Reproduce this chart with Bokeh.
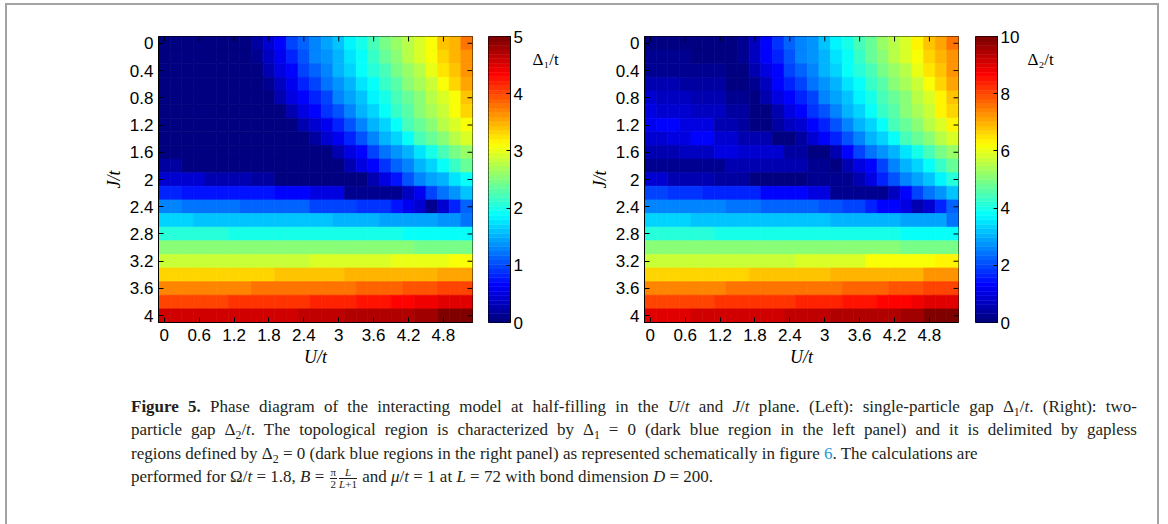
from bokeh.plotting import figure
from bokeh.models import (Range1d, FixedTicker, CustomJSTickFormatter,
                          LinearColorMapper, Div, ColumnDataSource)
from bokeh.core.properties import value
from bokeh.transform import transform
from bokeh.layouts import row, column
from bokeh.embed import file_html
from bokeh.resources import INLINE

# ---------------- data ----------------
U_vals = [0.0, 0.2, 0.4, 0.6, 0.8, 1.0, 1.2, 1.4, 1.6, 1.8, 2.0, 2.2, 2.4, 2.6,
          2.8, 3.0, 3.2, 3.4, 3.6, 3.8, 4.0, 4.2, 4.4, 4.6, 4.8, 5.0, 5.2]
J_vals = [0.0, 0.2, 0.4, 0.6, 0.8, 1.0, 1.2, 1.4, 1.6, 1.8, 2.0, 2.2, 2.4, 2.6,
          2.8, 3.0, 3.2, 3.4, 3.6, 3.8, 4.0]
x_ticks = [0, 0.6, 1.2, 1.8, 2.4, 3, 3.6, 4.2, 4.8]
y_ticks = [0, 0.4, 0.8, 1.2, 1.6, 2, 2.4, 2.8, 3.2, 3.6, 4]
cb1_ticks = [0, 1, 2, 3, 4, 5]
cb2_ticks = [0, 2, 4, 6, 8, 10]

# single-particle gap Delta_1/t  (rows: J/t, columns: U/t)
gap1 = [
    [0, 0, 0, 0, 0, 0, 0, 0, 0.19, 0.44, 0.69, 0.94, 1.12, 1.31, 1.44, 1.62, 1.81, 2.0, 2.25, 2.44, 2.62, 2.81, 2.94, 3.12, 3.38, 3.5, 3.75],
    [0, 0, 0, 0, 0, 0, 0, 0, 0.12, 0.38, 0.62, 0.81, 1.06, 1.25, 1.38, 1.56, 1.75, 1.94, 2.12, 2.38, 2.56, 2.75, 2.94, 3.06, 3.31, 3.5, 3.62],
    [0, 0, 0, 0, 0, 0, 0, 0, 0, 0.25, 0.5, 0.69, 0.94, 1.12, 1.31, 1.5, 1.69, 1.88, 2.06, 2.25, 2.44, 2.62, 2.81, 3.0, 3.25, 3.38, 3.62],
    [0, 0, 0, 0, 0, 0, 0, 0, 0, 0.12, 0.38, 0.62, 0.81, 1.0, 1.19, 1.38, 1.56, 1.75, 1.94, 2.12, 2.31, 2.5, 2.69, 2.88, 3.06, 3.31, 3.56],
    [0, 0, 0, 0, 0, 0, 0, 0, 0, 0, 0.25, 0.5, 0.69, 0.81, 1.0, 1.25, 1.44, 1.62, 1.81, 2.0, 2.19, 2.38, 2.56, 2.75, 2.94, 3.12, 3.38],
    [0, 0, 0, 0, 0, 0, 0, 0, 0, 0, 0, 0.25, 0.5, 0.69, 0.88, 1.06, 1.31, 1.5, 1.69, 1.94, 2.12, 2.31, 2.5, 2.69, 2.88, 3.12, 3.31],
    [0, 0, 0, 0, 0, 0, 0, 0, 0, 0, 0, 0, 0.25, 0.44, 0.62, 0.81, 1.06, 1.31, 1.5, 1.69, 1.94, 2.19, 2.38, 2.56, 2.75, 2.94, 3.12],
    [0, 0, 0, 0, 0, 0, 0, 0, 0, 0, 0, 0, 0, 0.19, 0.44, 0.62, 0.81, 1.06, 1.31, 1.5, 1.69, 1.94, 2.19, 2.38, 2.56, 2.75, 2.94],
    [0, 0, 0, 0, 0, 0, 0, 0, 0, 0, 0, 0, 0, 0, 0, 0.25, 0.5, 0.69, 0.94, 1.19, 1.38, 1.56, 1.75, 2.0, 2.25, 2.44, 2.62],
    [0.19, 0.19, 0, 0, 0, 0, 0, 0, 0, 0, 0, 0, 0, 0, 0, 0, 0.25, 0.5, 0.69, 0.88, 1.12, 1.31, 1.5, 1.69, 1.88, 2.12, 2.38],
    [0.44, 0.44, 0.44, 0.44, 0.31, 0.31, 0.31, 0.31, 0.19, 0.19, 0, 0, 0, 0, 0, 0, 0, 0, 0.25, 0.5, 0.75, 1.06, 1.25, 1.44, 1.56, 1.75, 1.88],
    [0.81, 0.81, 0.78, 0.78, 0.78, 0.78, 0.78, 0.78, 0.78, 0.78, 0.69, 0.69, 0.69, 0.5, 0.5, 0.5, 0.1, 0.1, 0.1, 0.1, 0.1, 0.38, 0.62, 0.94, 1.19, 1.38, 1.62],
    [1.25, 1.25, 1.19, 1.19, 1.19, 1.19, 1.19, 1.12, 1.12, 1.12, 1.1, 1.1, 1.1, 1.0, 1.0, 1.0, 1.0, 0.88, 0.88, 0.88, 0.75, 0.56, 0.44, 0.12, 0.44, 0.81, 1.12],
    [1.69, 1.69, 1.69, 1.62, 1.62, 1.62, 1.62, 1.62, 1.62, 1.62, 1.58, 1.58, 1.58, 1.58, 1.58, 1.52, 1.52, 1.52, 1.52, 1.48, 1.48, 1.48, 1.48, 1.48, 1.38, 1.38, 1.19],
    [2.06, 2.06, 2.06, 2.06, 2.06, 2.06, 2.03, 2.03, 2.03, 2.03, 2.03, 2.03, 2.03, 2.03, 2.03, 2.03, 2.03, 2.03, 2.03, 2.03, 2.03, 1.94, 1.94, 1.94, 1.94, 1.94, 1.88],
    [2.5, 2.5, 2.5, 2.5, 2.5, 2.5, 2.5, 2.5, 2.5, 2.5, 2.5, 2.5, 2.5, 2.5, 2.5, 2.5, 2.5, 2.5, 2.5, 2.5, 2.5, 2.5, 2.44, 2.44, 2.44, 2.44, 2.44],
    [2.88, 2.88, 2.88, 2.88, 2.88, 2.88, 2.88, 2.88, 2.88, 2.88, 2.88, 2.88, 2.88, 2.94, 2.94, 2.94, 2.94, 2.94, 2.94, 2.94, 3.0, 3.0, 3.0, 3.0, 3.0, 3.12, 3.12],
    [3.31, 3.31, 3.31, 3.31, 3.31, 3.31, 3.31, 3.31, 3.31, 3.31, 3.38, 3.38, 3.38, 3.38, 3.38, 3.38, 3.44, 3.44, 3.44, 3.44, 3.5, 3.5, 3.5, 3.5, 3.56, 3.56, 3.56],
    [3.69, 3.69, 3.69, 3.69, 3.69, 3.69, 3.69, 3.69, 3.75, 3.75, 3.75, 3.75, 3.75, 3.75, 3.81, 3.81, 3.81, 3.88, 3.88, 3.88, 3.88, 3.94, 3.94, 3.94, 4.0, 4.0, 4.0],
    [4.06, 4.06, 4.06, 4.06, 4.06, 4.06, 4.12, 4.12, 4.12, 4.12, 4.12, 4.12, 4.12, 4.19, 4.19, 4.19, 4.19, 4.25, 4.25, 4.25, 4.31, 4.31, 4.38, 4.38, 4.47, 4.47, 4.47],
    [4.55, 4.55, 4.55, 4.55, 4.59, 4.59, 4.59, 4.59, 4.59, 4.59, 4.59, 4.59, 4.62, 4.62, 4.62, 4.62, 4.69, 4.69, 4.69, 4.75, 4.75, 4.75, 4.81, 4.81, 4.94, 4.94, 4.94],
]

# two-particle gap Delta_2/t
gap2 = [
    [0.12, 0.12, 0.12, 0.12, 0.05, 0.05, 0.05, 0.05, 0.25, 0.75, 1.3, 1.8, 2.2, 2.5, 2.8, 3.2, 3.6, 4.0, 4.4, 4.8, 5.2, 5.6, 5.9, 6.25, 6.75, 7.1, 7.5],
    [0.25, 0.25, 0.25, 0.25, 0.12, 0.12, 0.12, 0.12, 0.25, 0.75, 1.25, 1.6, 2.1, 2.5, 2.75, 3.1, 3.5, 3.9, 4.25, 4.75, 5.1, 5.5, 5.9, 6.1, 6.6, 7.0, 7.25],
    [0.3, 0.3, 0.3, 0.3, 0.3, 0.3, 0.3, 0.1, 0.15, 0.5, 1.0, 1.4, 1.9, 2.25, 2.6, 3.0, 3.4, 3.75, 4.1, 4.5, 4.9, 5.25, 5.6, 6.0, 6.5, 6.75, 7.25],
    [0.5, 0.5, 0.5, 0.4, 0.4, 0.4, 0.4, 0.05, 0.1, 0.25, 0.75, 1.25, 1.6, 2.0, 2.4, 2.75, 3.1, 3.5, 3.9, 4.25, 4.6, 5.0, 5.4, 5.75, 6.1, 6.6, 7.1],
    [0.9, 0.75, 0.75, 0.75, 0.6, 0.6, 0.6, 0.25, 0.25, 0.1, 0.5, 1.0, 1.4, 1.6, 2.0, 2.5, 2.9, 3.25, 3.6, 4.0, 4.4, 4.75, 5.1, 5.5, 5.9, 6.25, 6.75],
    [1.0, 0.9, 0.9, 0.9, 0.75, 0.75, 0.75, 0.4, 0.4, 0.12, 0.05, 0.5, 1.0, 1.4, 1.75, 2.1, 2.6, 3.0, 3.4, 3.9, 4.25, 4.6, 5.0, 5.4, 5.75, 6.25, 6.6],
    [1.1, 1.4, 1.4, 1.0, 1.0, 1.0, 0.6, 0.6, 0.4, 0.05, 0.05, 0.4, 0.75, 0.9, 1.25, 1.6, 2.1, 2.6, 3.0, 3.4, 3.9, 4.4, 4.75, 5.1, 5.5, 5.9, 6.25],
    [0.9, 0.9, 1.0, 1.0, 1.4, 1.4, 0.9, 0.9, 0.5, 0.5, 0.5, 0.12, 0.12, 0.4, 0.9, 1.3, 1.6, 2.1, 2.6, 3.0, 3.4, 3.9, 4.4, 4.75, 5.1, 5.5, 5.9],
    [0.5, 0.5, 0.5, 0.75, 0.75, 0.75, 1.0, 1.0, 0.9, 0.9, 0.9, 0.9, 0.4, 0.4, 0.12, 0.12, 0.6, 1.25, 1.9, 2.4, 2.75, 3.1, 3.5, 4.0, 4.5, 4.9, 5.25],
    [0.25, 0.25, 0.25, 0.25, 0.25, 0.25, 0.25, 0.5, 0.5, 0.5, 0.5, 0.6, 0.6, 0.6, 0.25, 0.25, 0.12, 0.5, 1.0, 1.4, 2.0, 2.6, 3.0, 3.4, 3.75, 4.25, 4.75],
    [0.9, 0.9, 0.6, 0.6, 0.6, 0.6, 0.4, 0.4, 0.4, 0.12, 0.12, 0.12, 0.12, 0.12, 0.25, 0.25, 0.25, 0.25, 0.5, 1.0, 1.6, 2.1, 2.6, 2.9, 3.25, 3.6, 4.1],
    [1.88, 1.88, 1.75, 1.75, 1.75, 1.62, 1.62, 1.62, 1.62, 1.62, 1.38, 1.38, 1.38, 1.38, 1.0, 1.0, 0.25, 0.25, 0.25, 0.25, 0.25, 0.75, 1.25, 1.88, 2.38, 2.75, 3.25],
    [2.62, 2.62, 2.62, 2.5, 2.5, 2.5, 2.5, 2.38, 2.38, 2.38, 2.25, 2.25, 2.25, 2.2, 2.2, 2.1, 2.1, 1.88, 1.88, 1.6, 1.4, 1.25, 1.0, 0.5, 0.9, 1.6, 2.25],
    [3.38, 3.38, 3.38, 3.38, 3.25, 3.25, 3.25, 3.25, 3.25, 3.25, 3.25, 3.2, 3.2, 3.2, 3.2, 3.2, 3.0, 3.0, 3.0, 3.0, 3.0, 3.0, 2.88, 2.88, 2.88, 2.88, 2.38],
    [4.12, 4.12, 4.12, 4.12, 4.12, 4.12, 4.05, 4.05, 4.05, 4.05, 4.05, 4.05, 4.05, 4.05, 4.05, 4.05, 4.05, 4.05, 4.05, 4.05, 4.05, 4.05, 3.88, 3.88, 3.88, 3.88, 3.75],
    [5.0, 5.0, 5.0, 5.0, 5.0, 5.0, 5.0, 5.0, 5.0, 5.0, 5.0, 5.0, 5.0, 5.0, 5.0, 5.0, 5.0, 5.0, 5.0, 5.0, 5.0, 5.0, 4.88, 4.88, 4.88, 4.88, 4.88],
    [5.75, 5.75, 5.75, 5.75, 5.75, 5.75, 5.75, 5.75, 5.75, 5.75, 5.75, 5.75, 5.75, 5.9, 5.9, 5.9, 5.9, 5.9, 5.9, 6.1, 6.1, 6.1, 6.1, 6.1, 6.1, 6.25, 6.25],
    [6.62, 6.62, 6.62, 6.62, 6.62, 6.62, 6.62, 6.62, 6.62, 6.75, 6.75, 6.75, 6.75, 6.75, 6.75, 6.75, 6.88, 6.88, 6.88, 6.88, 7.0, 7.0, 7.0, 7.0, 7.2, 7.2, 7.2],
    [7.38, 7.38, 7.38, 7.38, 7.38, 7.38, 7.38, 7.5, 7.5, 7.5, 7.5, 7.5, 7.5, 7.5, 7.62, 7.62, 7.62, 7.75, 7.75, 7.75, 7.75, 7.88, 7.88, 7.88, 8.0, 8.0, 8.0],
    [8.1, 8.1, 8.1, 8.1, 8.1, 8.1, 8.25, 8.25, 8.25, 8.25, 8.25, 8.25, 8.25, 8.38, 8.38, 8.38, 8.38, 8.5, 8.5, 8.5, 8.62, 8.62, 8.62, 8.75, 8.95, 8.95, 8.95],
    [9.05, 9.05, 9.05, 9.05, 9.12, 9.12, 9.12, 9.12, 9.12, 9.12, 9.12, 9.12, 9.25, 9.25, 9.25, 9.25, 9.38, 9.38, 9.38, 9.5, 9.5, 9.5, 9.62, 9.62, 9.88, 9.88, 9.88],
]

# ---------------- style helpers ----------------
def jet(n=64):
    out = []
    for i in range(n):
        t = i / (n - 1)
        r = max(0.0, min(1.0, min(4 * t - 1.5, -4 * t + 4.5)))
        g = max(0.0, min(1.0, min(4 * t - 0.5, -4 * t + 3.5)))
        b = max(0.0, min(1.0, min(4 * t + 0.5, -4 * t + 2.5)))
        out.append("#%02x%02x%02x" % (round(r * 255), round(g * 255), round(b * 255)))
    return out

JET = jet(64)
TICK_FONT = "Liberation Sans"
LABEL_FONT = "Liberation Serif"
fmt = CustomJSTickFormatter(code="return String(Math.round(tick*10)/10);")

H = 380          # height of the top row
FT, FH = 35, 287  # heatmap frame top / height
XR = (-0.1, 5.3)
YR = (4.1, -0.1)


def style_axis(ax, ticks):
    ax.ticker = FixedTicker(ticks=ticks)
    ax.formatter = fmt
    ax.major_tick_in = 5
    ax.major_tick_out = 0
    ax.minor_tick_line_color = None
    ax.axis_line_color = "black"
    ax.major_tick_line_color = "black"
    ax.major_label_text_font = TICK_FONT
    ax.major_label_text_color = "black"
    ax.major_label_text_font_size = "17px"
    ax.major_label_standoff = 5


def heatmap(data, vmax, width, left, right):
    p = figure(width=width, height=H, x_range=Range1d(*XR), y_range=Range1d(*YR),
               output_backend="svg", toolbar_location=None,
               min_border_left=left, min_border_right=right,
               min_border_top=FT, min_border_bottom=H - FT - FH)
    xs, ys, vs = [], [], []
    for j, rv in zip(J_vals, data):
        for u, v in zip(U_vals, rv):
            xs.append(u)
            ys.append(j)
            vs.append(v)
    src = ColumnDataSource(dict(x=xs, y=ys, v=vs))
    mapper = LinearColorMapper(palette=JET, low=0, high=vmax)
    p.rect("x", "y", width=0.2, height=0.2, source=src,
           fill_color=transform("v", mapper), line_color=transform("v", mapper), line_width=0.7)
    # inward tick marks on the top and right edges (mirrors of the axes' ticks)
    tx = 5 * (XR[1] - XR[0]) / 314.0
    ty = 5 * (YR[0] - YR[1]) / FH
    p.segment(x0=x_ticks, x1=x_ticks, y0=[YR[1]] * len(x_ticks), y1=[YR[1] + ty] * len(x_ticks),
              line_color="black", line_width=1)
    p.segment(x0=[XR[1]] * len(y_ticks), x1=[XR[1] - tx] * len(y_ticks), y0=y_ticks, y1=y_ticks,
              line_color="black", line_width=1)
    p.xgrid.visible = False
    p.ygrid.visible = False
    p.outline_line_color = "black"
    p.outline_line_width = 1
    style_axis(p.xaxis[0], x_ticks)
    style_axis(p.yaxis[0], y_ticks)
    p.xaxis[0].major_label_standoff = 6
    p.xaxis[0].axis_label = "U/t"
    p.yaxis[0].axis_label = "J/t"
    for ax in (p.xaxis[0], p.yaxis[0]):
        ax.axis_label_text_font = LABEL_FONT
        ax.axis_label_text_font_style = "italic"
        ax.axis_label_text_font_size = "18px"
        ax.axis_label_standoff = 3
        ax.axis_label_text_color = "black"
    return p


def colorbar(vmax, ticks, width, left):
    p = figure(width=width, height=H, x_range=Range1d(0, 1), y_range=Range1d(0, vmax),
               output_backend="svg", toolbar_location=None,
               x_axis_location=None, y_axis_location="right",
               min_border_left=left, min_border_right=width - left - 22,
               min_border_top=36, min_border_bottom=H - 36 - 286)
    n = len(JET)
    p.quad(left=[0] * n, right=[1] * n,
           bottom=[vmax * i / n for i in range(n)], top=[vmax * (i + 1) / n for i in range(n)],
           fill_color=JET, line_color=JET, line_width=0.5)
    p.xgrid.visible = False
    p.ygrid.visible = False
    p.outline_line_color = "black"
    style_axis(p.yaxis[0], ticks)
    p.yaxis[0].major_tick_in = 4
    p.yaxis[0].major_label_standoff = 3
    return p


def title_fig(width, text, tx):
    p = figure(width=width, height=H, x_range=Range1d(0, width), y_range=Range1d(H, 0),
               output_backend="svg", toolbar_location=None, title=None,
               x_axis_location=None, y_axis_location=None,
               min_border_left=0, min_border_right=0, min_border_top=0, min_border_bottom=0)
    p.xgrid.visible = False
    p.ygrid.visible = False
    p.outline_line_color = None
    p.text(x=[tx], y=[30], text=[text], text_font=value(LABEL_FONT), text_font_size="17px",
           text_baseline="middle", text_align="left", text_color="black")
    return p


p1 = heatmap(gap1, 5, 480, 158, 8)
cb1 = colorbar(5, cb1_ticks, 50, 8)
t1 = title_fig(36, "Δ₁/t", 2)
p2 = heatmap(gap2, 10, 400, 78, 8)
cb2 = colorbar(10, cb2_ticks, 56, 9)
t2 = title_fig(146, "Δ₂/t", 5)


def frac(a, b):
    return ('<span style="display:inline-block;vertical-align:middle;text-align:center;'
            'font-size:11px;line-height:11px;margin:0 1px;">'
            '<span style="display:block;border-bottom:1px solid #231f20;padding:0 1px;">%s</span>'
            '<span style="display:block;">%s</span></span>' % (a, b))


sub = '<sub style="font-size:70%%;line-height:0;">%s</sub>'
J = "<i>J</i>"
T = "<i>t</i>"
jl = 'style="text-align:justify;text-align-last:justify;white-space:nowrap;"'
cap_html = (
    '<div style="position:relative;">'
    '<div style="position:absolute;left:0px;top:-382px;width:1154px;height:560px;'
    'border-left:2px solid #a3a3a3;border-right:2px solid #a3a3a3;border-top:2px solid #a3a3a3;"></div>'
    '<div style="font-family:\'Liberation Serif\',serif;font-size:17px;line-height:23.4px;'
    'color:#231f20;margin-left:126px;width:1006px;padding-top:10px;">'
    '<div %s><b>Figure 5.</b> Phase diagram of the interacting model at half-filling in the '
    '<i>U</i>/%s and %s/%s plane. (Left): single-particle gap Δ%s/%s. (Right): two-</div>'
    '<div %s>particle gap Δ%s/%s. The topological region is characterized by Δ%s = 0 '
    '(dark blue region in the left panel) and it is delimited by gapless</div>'
    '<div>regions defined by Δ%s = 0 (dark blue regions in the right panel) as represented '
    'schematically in figure <span style="color:#1a9ad6;">6</span>. The calculations are</div>'
    '<div>performed for Ω/%s = 1.8, <i>B</i> = %s%s and <i>μ</i>/%s = 1 at <i>L</i> = 72 '
    'with bond dimension <i>D</i> = 200.</div></div></div>'
) % (jl, T, J, T, sub % "1", T,
     jl, sub % "2", T, sub % "1",
     sub % "2",
     T, frac("π", "2"), frac("<i>L</i>", "<i>L</i>+1"), T)

cap = Div(text=cap_html, width=1168, height=144)

layout = column(row(p1, cb1, t1, p2, cb2, t2), cap)

open("out.html", "w").write(file_html(layout, INLINE))
